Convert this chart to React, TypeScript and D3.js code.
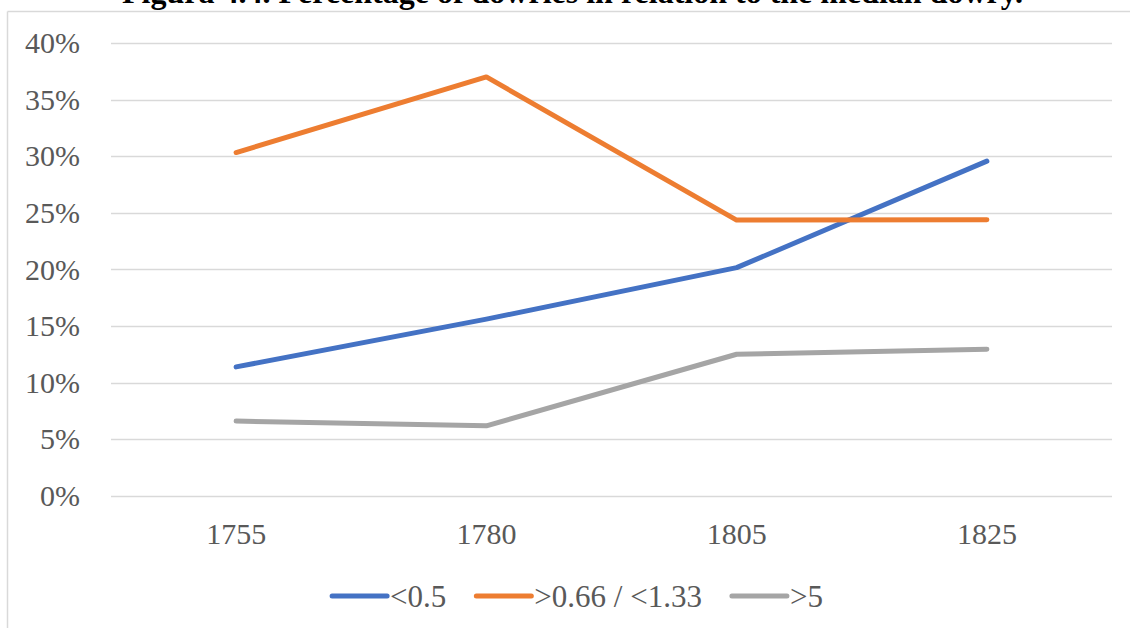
import React, { useEffect, useRef } from "react";
import * as d3 from "d3";

const categories = ["1755", "1780", "1805", "1825"];
const seriesNames = ["<0.5", ">0.66 / <1.33", ">5"];
const lowValues = [11.38, 15.6, 20.15, 29.56];
const midValues = [30.32, 37.0, 24.35, 24.38];
const highValues = [6.59, 6.17, 12.5, 12.95];
const yTicks = [0, 5, 10, 15, 20, 25, 30, 35, 40];
const colors = ["#4472C4", "#ED7D31", "#A5A5A5"];
const titleText = "Figura 4.4. Percentage of dowries in relation to the median dowry.";

const W = 1130;
const H = 628;
const FONT = "Liberation Serif";

export default function App() {
  const ref = useRef<SVGSVGElement>(null);

  useEffect(() => {
    const svg = d3.select(ref.current);
    svg.selectAll("*").remove();

    const series = [lowValues, midValues, highValues];

    const x = d3.scaleBand<string>().domain(categories).range([111, 1112]);
    const y = d3.scaleLinear().domain([0, 40]).range([495.7, 43]);

    // frame
    svg.append("line").attr("x1", 7.5).attr("x2", W).attr("y1", 11.5).attr("y2", 11.5)
      .attr("stroke", "#d9d9d9").attr("stroke-width", 1.5);
    svg.append("line").attr("x1", 7.5).attr("x2", 7.5).attr("y1", 11.5).attr("y2", H)
      .attr("stroke", "#d9d9d9").attr("stroke-width", 1.5);

    // title
    svg.append("text").attr("x", 572.5).attr("y", 3)
      .attr("text-anchor", "middle").style("font-family", FONT)
      .attr("font-weight", "bold").attr("font-size", 32).attr("fill", "#000")
      .text(titleText);

    // gridlines
    svg.append("g").selectAll("line").data(yTicks).join("line")
      .attr("x1", 111).attr("x2", 1112)
      .attr("y1", (d) => Math.round(y(d)) + 0.5).attr("y2", (d) => Math.round(y(d)) + 0.5)
      .attr("stroke", "#d9d9d9").attr("stroke-width", 1.3);

    // y labels
    svg.append("g").selectAll("text").data(yTicks).join("text")
      .attr("x", 80).attr("y", (d) => y(d)).attr("dy", "0.34em")
      .attr("text-anchor", "end").style("font-family", FONT).attr("font-size", 30)
      .attr("fill", "#595959").text((d) => `${d}%`);

    // x labels
    svg.append("g").selectAll("text").data(categories).join("text")
      .attr("x", (d) => (x(d) as number) + x.bandwidth() / 2).attr("y", 544)
      .attr("text-anchor", "middle").style("font-family", FONT).attr("font-size", 30)
      .attr("fill", "#595959").text((d) => d);

    // lines
    const line = d3.line<number>()
      .x((_, i) => (x(categories[i]) as number) + x.bandwidth() / 2)
      .y((d) => y(d));
    series.forEach((vals, si) => {
      svg.append("path").attr("d", line(vals) as string)
        .attr("fill", "none").attr("stroke", colors[si]).attr("stroke-width", 5)
        .attr("stroke-linecap", "round").attr("stroke-linejoin", "round");
    });

    // legend
    const lg = svg.append("g");
    const items = seriesNames.map((name, i) => {
      const g = lg.append("g");
      g.append("line").attr("x1", 0).attr("x2", 55).attr("y1", 0).attr("y2", 0)
        .attr("stroke", colors[i]).attr("stroke-width", 5).attr("stroke-linecap", "round");
      const t = g.append("text").attr("x", 58).attr("y", 0).attr("dy", "0.34em")
        .style("font-family", FONT).attr("font-size", 31).attr("fill", "#595959").text(name);
      const w = (t.node() as SVGTextElement).getComputedTextLength();
      return { g, width: 58 + w };
    });
    const gap = 30;
    const total = d3.sum(items, (d) => d.width) + gap * (items.length - 1);
    let cx = 577.5 - total / 2;
    items.forEach((it) => {
      it.g.attr("transform", `translate(${cx},596)`);
      cx += it.width + gap;
    });
  }, []);

  return (
    <div style={{ position: "fixed", left: 0, top: 0, width: W, height: H, background: "#fff" }}>
      <svg ref={ref} width={W} height={H} style={{ display: "block" }} />
    </div>
  );
}
